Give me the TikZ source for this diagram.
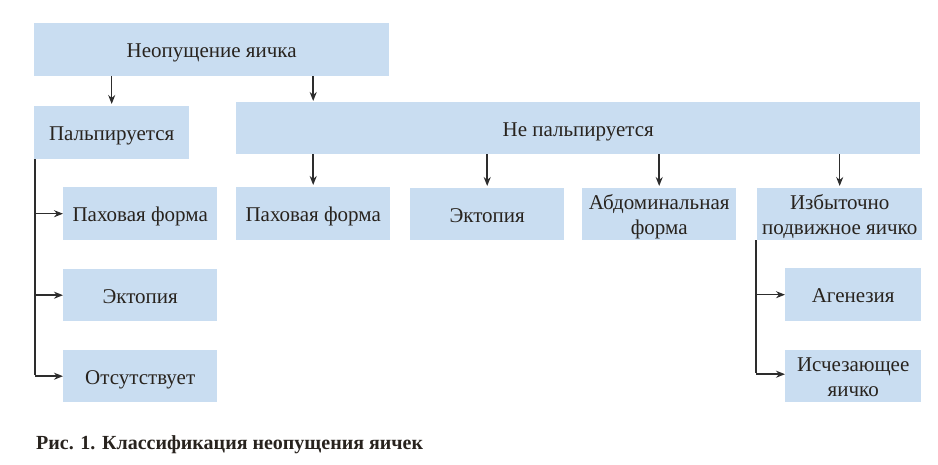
\documentclass[tikz,border=0pt]{standalone}
\usepackage{fontspec}
\setmainfont{Liberation Serif}
\usetikzlibrary{arrows.meta,calc}
\definecolor{boxfill}{RGB}{201,221,241}
\definecolor{linec}{RGB}{45,45,45}
\definecolor{textc}{RGB}{40,35,30}
\tikzset{
  box/.style={fill=boxfill, draw=none, inner sep=0pt, anchor=north west, align=center,
    text=textc, font=\fontsize{21}{25}\selectfont, text height=16pt, text depth=0pt},
  box2/.style={box, text height=40pt},
  arr/.style={draw=linec, line width=1.5pt, -{Stealth[length=9pt,width=7pt]}},
  ln/.style={draw=linec, line width=1.5pt}
}
\begin{document}
\begin{tikzpicture}[x=1pt,y=-1pt]
\useasboundingbox (0,0) rectangle (938,464);
\node[box, minimum width=355pt, minimum height=53pt] (top) at (34,23) {Неопущение яичка};
\node[box, minimum width=155pt, minimum height=53pt] (pal) at (34,106) {Пальпируется};
\node[box, minimum width=684pt, minimum height=52pt] (nepal) at (236,102) {Не пальпируется};
\node[box, minimum width=154pt, minimum height=53pt] (pah1) at (63,187) {Паховая форма};
\node[box, minimum width=154pt, minimum height=52pt] (ekt1) at (63,269) {Эктопия};
\node[box, minimum width=154pt, minimum height=52pt] (abs1) at (63,350) {Отсутствует};
\node[box, minimum width=154pt, minimum height=53pt] (pah2) at (236,187) {Паховая форма};
\node[box, minimum width=154pt, minimum height=52pt] (ekt2) at (410,188) {Эктопия};
\node[box2, minimum width=154pt, minimum height=52pt] (abd) at (582,188) {Абдоминальная\\форма};
\node[box2, minimum width=165pt, minimum height=52pt] (izb) at (757,188) {Избыточно\\подвижное яичко};
\node[box, minimum width=136pt, minimum height=53pt] (age) at (785,268) {Агенезия};
\node[box2, minimum width=136pt, minimum height=52pt] (isch) at (785,350) {Исчезающее\\яичко};
\node[anchor=west, inner sep=0pt, text=textc, font=\fontsize{20}{24}\selectfont\bfseries] (cap) at (36,445) {Рис. 1. Классификация неопущения яичек};
% top level arrows
\draw[arr, shorten >=2pt] (top.south -| pal) -- (pal.north);
\draw[arr, shorten >=1pt] (top.south -| pah2) -- (nepal.north -| pah2);
% non-palpable children
\draw[arr, shorten >=2pt] (nepal.south -| pah2) -- (pah2.north);
\draw[arr, shorten >=2pt] (nepal.south -| ekt2) -- (ekt2.north);
\draw[arr, shorten >=2pt] (nepal.south -| abd) -- (abd.north);
\draw[arr, shorten >=2pt] (nepal.south -| izb) -- (izb.north);
% palpable branch
\coordinate (pl) at ($(pal.south west)+(1,0)$);
\draw[ln] (pl) -- ([yshift=0.75pt]pl |- abs1);
\draw[arr] (pl |- pah1) -- (pah1.west);
\draw[arr] (pl |- ekt1) -- (ekt1.west);
\draw[arr] (pl |- abs1) -- (abs1.west);
% excessive mobile branch
\coordinate (il) at ($(izb.south west)+(-1,0)$);
\draw[ln] (il) -- ([yshift=2.75pt]il |- isch);
\draw[arr] (il |- age) -- (age.west);
\draw[arr] ([yshift=2pt]il |- isch) -- ([yshift=2pt]isch.west);
\end{tikzpicture}
\end{document}
